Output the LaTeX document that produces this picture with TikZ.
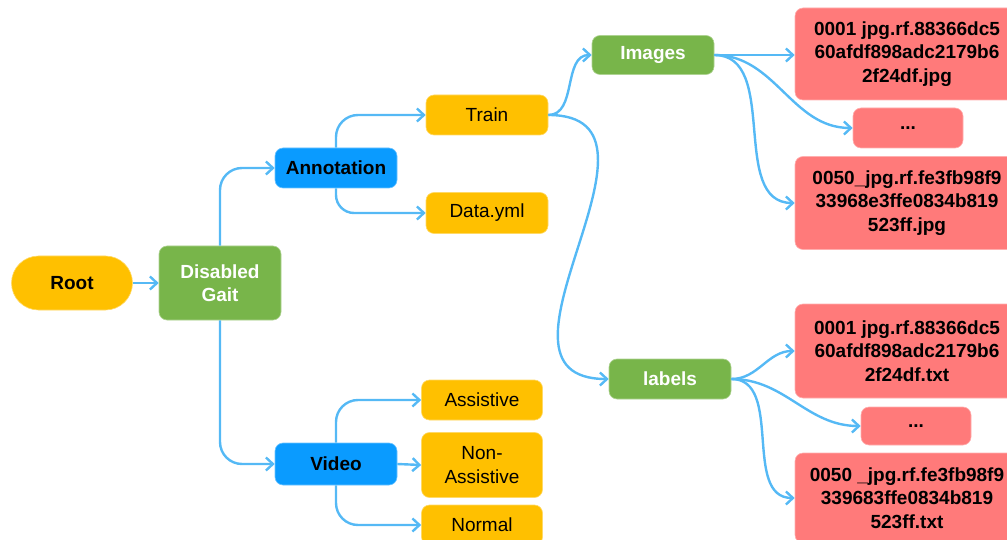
\documentclass[tikz,border=0pt]{standalone}
\usepackage{fontspec}
\setmainfont{Liberation Sans}
\usepackage{tikz}
\usetikzlibrary{arrows.meta,positioning}
\usepackage{xcolor}

\definecolor{rootyellow}{RGB}{255,192,0}
\definecolor{dirgreen}{RGB}{120,181,74}
\definecolor{subblue}{RGB}{10,155,255}
\definecolor{filered}{RGB}{255,122,122}
\definecolor{linkblue}{RGB}{85,185,245}

\begin{document}
\begin{tikzpicture}[x=1pt, y=-1pt,
    box/.style={rectangle, rounded corners=8pt, inner sep=0pt, minimum width=122pt, minimum height=40pt, align=center, font=\fontsize{19}{23.5}\selectfont},
    yellowbox/.style={box, fill=rootyellow, draw=rootyellow!60!white, line width=0.6pt},
    greenbox/.style={box, fill=dirgreen, draw=dirgreen!60!white, line width=0.6pt, text=white, font=\fontsize{19}{23.5}\selectfont\bfseries},
    bluebox/.style={box, fill=subblue, draw=subblue!60!white, line width=0.6pt, font=\fontsize{19}{23.5}\selectfont\bfseries},
    redbox/.style={box, fill=filered, draw=filered!60!white, line width=0.6pt, minimum width=224pt, minimum height=92pt, font=\fontsize{19}{23.5}\selectfont\bfseries},
    arrow/.style={-{Straight Barb[length=7pt,width=13pt]}, linkblue, line width=2.4pt},
    elbow/.style={arrow, rounded corners=22pt}
]
\useasboundingbox (0,0) rectangle (1007,540);

% Root and first level
\node[yellowbox, rounded corners=27pt, minimum width=121pt, minimum height=54pt, font=\fontsize{19}{23.5}\selectfont\bfseries] (root) at (72,283) {Root};
\node[greenbox, minimum height=74pt] (gait) at (220,283) {Disabled\\Gait};

% Second level
\node[bluebox] (annot) at (336,168) {Annotation};
\node[bluebox, minimum height=42pt] (video) at (336,464) {Video};

% Annotation branch
\node[yellowbox] (train) at (487,115) {Train};
\node[yellowbox, minimum height=41pt] (datayml) at (487,213) {Data.yml};

% Video branch
\node[yellowbox, minimum width=121pt] (assist) at (482,400) {Assistive};
\node[yellowbox, minimum width=121pt, minimum height=65pt] (nonassist) at (482,465) {Non-\\Assistive};
\node[yellowbox, minimum width=121pt] (normal) at (482,525) {Normal};

% Train folders
\node[greenbox, minimum height=39pt] (images) at (653,55) {Images};
\node[greenbox] (labels) at (670,379) {labels};

% Files
\node[redbox] (imgfirst) at (907,54) {0001 jpg.rf.88366dc5\\60afdf898adc2179b6\\2f24df.jpg};
\node[redbox, minimum width=110pt, minimum height=40pt] (imgdots) at (908,128) {...};
\node[redbox, minimum height=93pt] (imglast) at (907,203) {0050\_jpg.rf.fe3fb98f9\\33968e3ffe0834b819\\523ff.jpg};
\node[redbox, minimum height=94pt] (lblfirst) at (907,351) {0001 jpg.rf.88366dc5\\60afdf898adc2179b6\\2f24df.txt};
\node[redbox, minimum width=110pt, minimum height=38pt] (lbldots) at (916,426) {...};
\node[redbox, minimum height=90pt] (lbllast) at (907,498) {0050 \_jpg.rf.fe3fb98f9\\339683ffe0834b819\\523ff.txt};

% Arrows
\draw[arrow] (root) -- (gait);
\draw[elbow] (gait.north) |- (annot.west);
\draw[elbow] (gait.south) |- (video.west);
\draw[elbow] (annot.north) |- (train.west);
\draw[elbow, rounded corners=18pt] (annot.south) |- (datayml.west);
\draw[elbow] (video.north) |- (assist.west);
\draw[arrow] (video.east) -- (nonassist.west);
\draw[elbow] (video.south) |- (normal.west);
\draw[arrow] (train.east) to[out=0,in=180] (images.west);
\draw[arrow] (train.east) to[out=0,in=180,looseness=1.35] (labels.west);
\draw[arrow] (images.east) -- (imgfirst.west |- images.east);
\draw[arrow] (images.east) to[out=0,in=180] (imgdots.west);
\draw[arrow] (images.east) to[out=0,in=180] (imglast.west);
\draw[arrow] (labels.east) to[out=0,in=180] (lblfirst.west);
\draw[arrow] (labels.east) to[out=0,in=180] (lbldots.west);
\draw[arrow] (labels.east) to[out=0,in=180] (lbllast.west);

\end{tikzpicture}
\end{document}
